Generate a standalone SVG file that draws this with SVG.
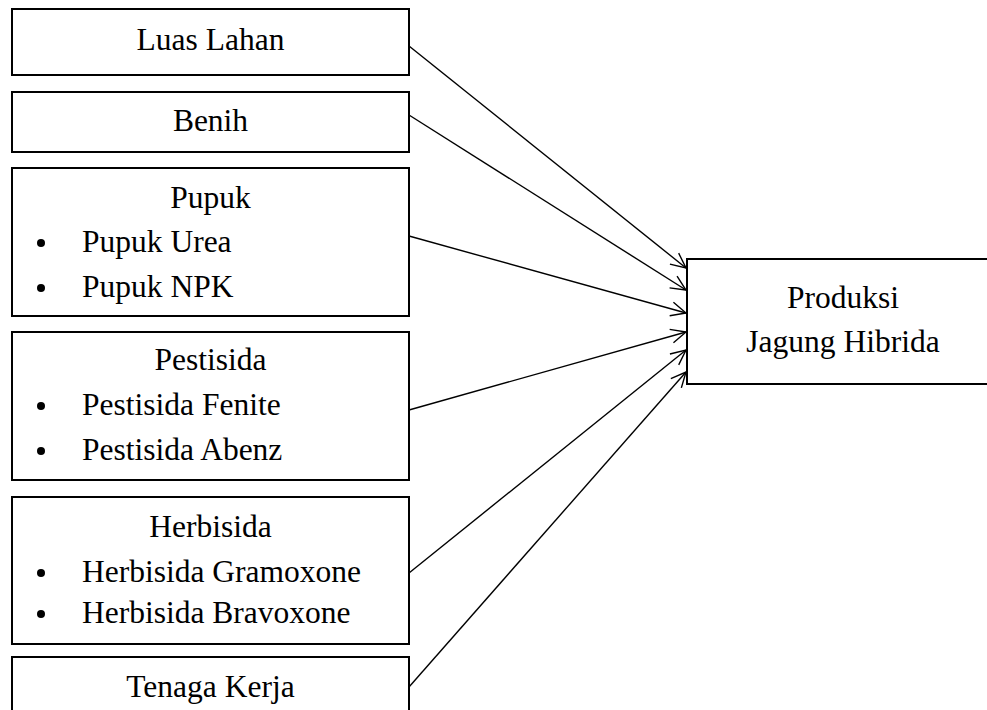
<svg xmlns="http://www.w3.org/2000/svg" width="987" height="710" viewBox="0 0 987 710">
<defs>
<style>
.box{fill:#fff;stroke:#000;stroke-width:2}
.t{font-family:"Liberation Serif","Times New Roman",serif;font-size:31.5px;fill:#000}
.c{text-anchor:middle}
.conn line{stroke:#000;stroke-width:1.4;marker-end:url(#ah)}
</style>
<marker id="ah" markerUnits="userSpaceOnUse" markerWidth="20" markerHeight="20" viewBox="-16 -10 20 20" refX="0" refY="0" orient="auto">
<path d="M-15,-7 L0,0 L-15,7" fill="none" stroke="#000" stroke-width="1.4"/>
</marker>
</defs>
<rect width="987" height="710" fill="#fff"/>
<g id="luas-lahan">
<rect class="box" x="12" y="9" width="397" height="66"/>
<text class="t c" x="210.5" y="50">Luas Lahan</text>
</g>
<g id="benih">
<rect class="box" x="12" y="92" width="397" height="60"/>
<text class="t c" x="210.5" y="131">Benih</text>
</g>
<g id="pupuk">
<rect class="box" x="12" y="168" width="397" height="148"/>
<text class="t c" x="210.5" y="208">Pupuk</text>
<circle cx="41" cy="243" r="4"/>
<text class="t" x="82" y="252">Pupuk Urea</text>
<circle cx="41" cy="288" r="4"/>
<text class="t" x="82" y="297">Pupuk NPK</text>
</g>
<g id="pestisida">
<rect class="box" x="12" y="332" width="397" height="148"/>
<text class="t c" x="210.5" y="370">Pestisida</text>
<circle cx="41" cy="406" r="4"/>
<text class="t" x="82" y="415">Pestisida Fenite</text>
<circle cx="41" cy="451" r="4"/>
<text class="t" x="82" y="460">Pestisida Abenz</text>
</g>
<g id="herbisida">
<rect class="box" x="12" y="497" width="397" height="147"/>
<text class="t c" x="210.5" y="537">Herbisida</text>
<circle cx="41" cy="573" r="4"/>
<text class="t" x="82" y="582">Herbisida Gramoxone</text>
<circle cx="41" cy="614" r="4"/>
<text class="t" x="82" y="623">Herbisida Bravoxone</text>
</g>
<g id="tenaga-kerja">
<rect class="box" x="12" y="657" width="397" height="70"/>
<text class="t c" x="210.5" y="697">Tenaga Kerja</text>
</g>
<g id="produksi">
<rect class="box" x="687" y="259" width="320" height="125"/>
<text class="t c" x="843" y="308">Produksi</text>
<text class="t c" x="843" y="352">Jagung Hibrida</text>
</g>
<g class="conn" id="connectors">
<line x1="409" y1="46" x2="686" y2="268"/>
<line x1="409" y1="115" x2="686" y2="290"/>
<line x1="409" y1="236" x2="686" y2="313"/>
<line x1="409" y1="410" x2="686" y2="332"/>
<line x1="409" y1="573" x2="686" y2="350"/>
<line x1="409" y1="687" x2="686" y2="372"/>
</g>
</svg>
